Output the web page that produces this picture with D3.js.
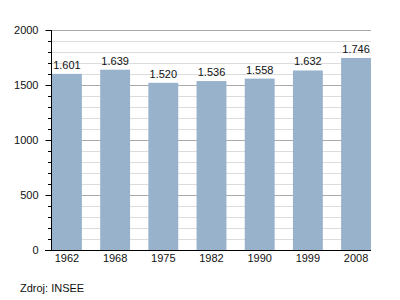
<!DOCTYPE html>
<html>
<head>
<meta charset="utf-8">
<script src="https://cdn.jsdelivr.net/npm/d3@7"></script>
<style>
  body { margin: 0; background: #fff; }
  text { font-family: "Liberation Sans", Arial, sans-serif; font-size: 11px; fill: #111; }
</style>
</head>
<body>
<svg id="chart" width="400" height="300"></svg>
<script>
// data
var years = ["1962", "1968", "1975", "1982", "1990", "1999", "2008"];
var population = [1601, 1639, 1520, 1536, 1558, 1632, 1746];
var yTicks = [0, 500, 1000, 1500, 2000];
var source = "Zdroj: INSEE";

var svg = d3.select("#chart");
// plot edges (note: "top" is taken by window.top)
var pLeft = 51, pRight = 371, pTop = 30, pBottom = 250;

var fmt = d3.formatLocale({decimal: ",", thousands: ".", grouping: [3], currency: ["", ""]}).format(",d");

var x = d3.scaleBand().domain(years).range([pLeft + 1, pRight]).paddingInner(0.38).paddingOuter(0);
var y = d3.scaleLinear().domain([0, 2000]).range([pBottom, pTop]);

// minor grid every 100
var minor = d3.range(100, 2001, 100).filter(function(d) { return d % 500 != 0; });
svg.append("g").selectAll("line").data(minor).enter().append("line")
  .attr("x1", pLeft).attr("x2", pRight)
  .attr("y1", function(d) { return y(d) + 0.5; }).attr("y2", function(d) { return y(d) + 0.5; })
  .attr("stroke", "#dcdcdc");
// major grid
svg.append("g").selectAll("line").data(yTicks.slice(1)).enter().append("line")
  .attr("x1", pLeft).attr("x2", pRight)
  .attr("y1", function(d) { return y(d) + 0.5; }).attr("y2", function(d) { return y(d) + 0.5; })
  .attr("stroke", "#aaaaaa");

// bars
svg.append("g").selectAll("rect").data(population).enter().append("rect")
  .attr("x", function(d, i) { return x(years[i]); })
  .attr("y", function(d) { return y(d); })
  .attr("width", x.bandwidth())
  .attr("height", function(d) { return pBottom - y(d); })
  .attr("fill", "#99b2cc");

// value labels
svg.append("g").selectAll("text").data(population).enter().append("text")
  .attr("x", function(d, i) { return x(years[i]) + x.bandwidth() / 2; })
  .attr("y", function(d) { return y(d) - 5; })
  .attr("text-anchor", "middle")
  .text(function(d) { return fmt(d); });

// y axis: minor ticks
svg.append("g").selectAll("line").data(minor).enter().append("line")
  .attr("x1", pLeft - 3).attr("x2", pLeft)
  .attr("y1", function(d) { return y(d) + 0.5; }).attr("y2", function(d) { return y(d) + 0.5; })
  .attr("stroke", "#000");
var yAxis = svg.append("g")
  .attr("transform", "translate(" + (pLeft + 0.5) + ",0)")
  .call(d3.axisLeft(y).tickValues(yTicks).tickFormat(d3.format("d")).tickSize(6).tickPadding(7));
yAxis.select(".domain").attr("d", "M0," + pTop + "V" + pBottom);
yAxis.selectAll("text").style("font-size", "11px").style("font-family", "Liberation Sans, Arial, sans-serif");

// x axis
svg.append("line").attr("x1", pLeft - 6).attr("x2", pRight)
  .attr("y1", pBottom + 0.5).attr("y2", pBottom + 0.5).attr("stroke", "#000");
svg.append("g").selectAll("text").data(years).enter().append("text")
  .attr("x", function(d) { return x(d) + x.bandwidth() / 2; })
  .attr("y", pBottom + 12)
  .attr("text-anchor", "middle")
  .text(function(d) { return d; });

svg.append("text").attr("x", 20).attr("y", 292).text(source);
</script>
</body>
</html>
